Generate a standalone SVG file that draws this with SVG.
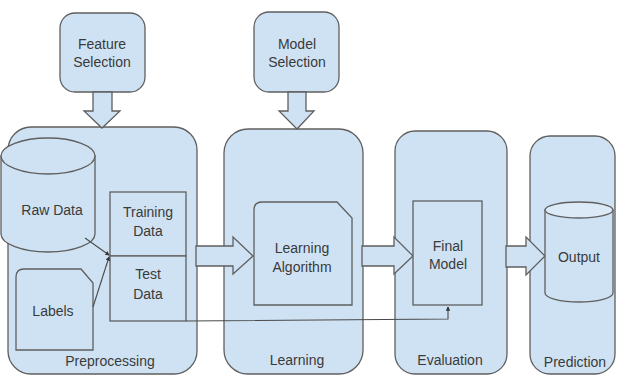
<svg xmlns="http://www.w3.org/2000/svg" width="617" height="376" viewBox="0 0 617 376">
  <defs>
    <style>
      .box { fill: #cfe2f3; stroke: #5f5f5f; stroke-width: 1.3; }
      .top { fill: #dce9f6; stroke: #5f5f5f; stroke-width: 1.3; }
      .arrow { fill: #cfe2f3; stroke: #5f5f5f; stroke-width: 1.3; stroke-linejoin: miter; }
      .link { fill: none; stroke: #4a4a4a; stroke-width: 1.1; }
      text { font-family: "Liberation Sans", Arial, sans-serif; font-size: 14px; fill: #3a3a3a; text-anchor: middle; }
    </style>
    <marker id="tip" viewBox="0 0 6 6" refX="5" refY="3" markerWidth="4" markerHeight="4" orient="auto">
      <path d="M0,0 L6,3 L0,6 z" fill="#333"/>
    </marker>
  </defs>

  <rect width="617" height="376" fill="#ffffff"/>

  <!-- stage containers -->
  <g id="preprocessing">
    <rect class="box" x="8" y="127" width="189" height="247" rx="23"/>
    <text x="110" y="366">Preprocessing</text>
  </g>
  <g id="learning">
    <rect class="box" x="224" y="129" width="139" height="245" rx="24"/>
    <text x="297" y="365">Learning</text>
  </g>
  <g id="evaluation">
    <rect class="box" x="395" y="131" width="112" height="243" rx="20"/>
    <text x="450" y="365">Evaluation</text>
  </g>
  <g id="prediction">
    <rect class="box" x="530" y="136" width="85" height="238" rx="20"/>
    <text x="575" y="367">Prediction</text>
  </g>

  <!-- selection steps -->
  <g id="feature-selection">
    <rect class="box" x="60" y="13" width="85" height="79" rx="15"/>
    <text x="102" y="49">Feature</text>
    <text x="102" y="67">Selection</text>
  </g>
  <g id="model-selection">
    <rect class="box" x="254" y="12" width="85" height="80" rx="15"/>
    <text x="297" y="49">Model</text>
    <text x="297" y="67">Selection</text>
  </g>

  <!-- flow arrows between stages -->
  <g id="connectors">
    <path class="arrow" d="M93,92 L112,92 L112,111 L120,111 L102,128 L84,111 L93,111 Z"/>
    <path class="arrow" d="M288,92 L306,92 L306,111 L314,111 L297,129 L279,111 L288,111 Z"/>
    <path class="arrow" d="M196,246 L233,246 L233,237 L253,256 L233,274 L233,266 L196,266 Z"/>
    <path class="arrow" d="M362,246 L394,246 L394,237 L413,256 L394,274 L394,266 L362,266 Z"/>
    <path class="arrow" d="M506,246 L526,246 L526,237 L545,256 L526,275 L526,267 L506,267 Z"/>
  </g>

  <!-- preprocessing contents -->
  <g id="raw-data">
    <path class="box" d="M1,156 L1,234 A47,18 0 0 0 95,234 L95,156 Z"/>
    <ellipse class="box" cx="48" cy="156" rx="47" ry="18"/>
    <text x="52" y="215">Raw Data</text>
  </g>
  <g id="labels">
    <path class="box" d="M24,269 L81,269 L93,283 L93,350 L16,350 L16,277 Q16,269 24,269 Z"/>
    <text x="53" y="316">Labels</text>
  </g>
  <g id="training-data">
    <rect class="box" x="110" y="192" width="76" height="64"/>
    <text x="148" y="217">Training</text>
    <text x="148" y="236">Data</text>
  </g>
  <g id="test-data">
    <rect class="box" x="110" y="256" width="76" height="65"/>
    <text x="148" y="279">Test</text>
    <text x="148" y="299">Data</text>
  </g>

  <!-- learning contents -->
  <g id="learning-algorithm">
    <path class="box" d="M262,202 L337,202 L352,218 L352,305 L254,305 L254,210 Q254,202 262,202 Z"/>
    <text x="302" y="253">Learning</text>
    <text x="302" y="272">Algorithm</text>
  </g>

  <!-- evaluation contents -->
  <g id="final-model">
    <rect class="box" x="413" y="201" width="69" height="104"/>
    <text x="448" y="251">Final</text>
    <text x="448" y="269">Model</text>
  </g>

  <!-- prediction contents -->
  <g id="output">
    <path class="box" d="M545,210 L545,293 A34,9 0 0 0 613,293 L613,210 Z"/>
    <ellipse class="top" cx="579" cy="210" rx="34" ry="8"/>
    <text x="579" y="262">Output</text>
  </g>

  <!-- thin data links -->
  <g id="links">
    <path class="link" d="M85,238 L109,255" marker-end="url(#tip)"/>
    <path class="link" d="M93,307 L109,257" marker-end="url(#tip)"/>
    <path class="link" d="M186,321 L448,319 L448,307" marker-end="url(#tip)"/>
  </g>
</svg>
